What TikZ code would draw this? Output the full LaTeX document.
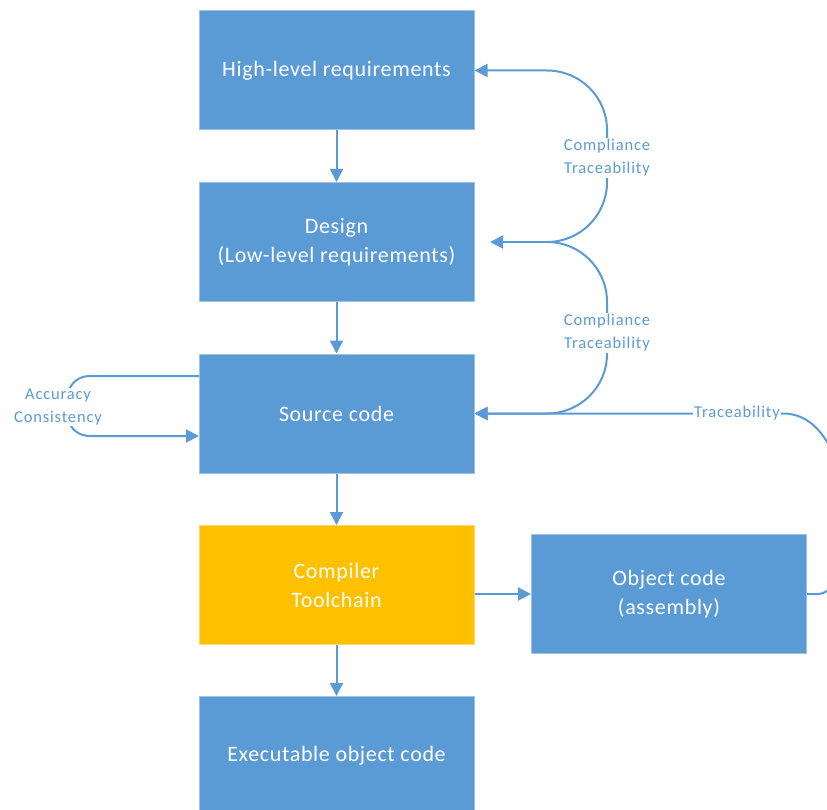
\documentclass[tikz,border=0pt]{standalone}
\usepackage{fontspec}
\setmainfont{Carlito}
\usetikzlibrary{arrows.meta,calc}
\definecolor{boxblue}{HTML}{5B9BD5}
\definecolor{boxedge}{HTML}{9CC2E5}
\definecolor{gold}{HTML}{FFC000}
\definecolor{goldedge}{HTML}{FFD966}
\definecolor{lbl}{HTML}{5B9BD5}
\tikzset{
  box/.style={draw=boxedge, line width=1pt, fill=boxblue, text=white, minimum width=275pt, minimum height=119pt, inner sep=0pt, align=center, font=\fontsize{22}{29}\selectfont\addfontfeature{LetterSpace=3}},
  goldbox/.style={box, fill=gold, draw=goldedge},
  conn/.style={draw=boxblue, line width=2pt},
  arr/.style={conn, -{Triangle[length=13pt,width=13pt]}},
  lab/.style={fill=white, text=lbl, align=center, inner sep=1pt, font=\fontsize{16.5}{23}\selectfont\addfontfeature{LetterSpace=5}},
}
\begin{document}
\begin{tikzpicture}[x=1pt,y=-1pt]
\useasboundingbox (0,0) rectangle (827,810);
\node[box] (hlr) at (336.5,70.5) {High-level requirements};
\node[box] (dsn) at (336.5,242) {Design\\(Low-level requirements)};
\node[box] (src) at (336.5,413.5) {Source code};
\node[goldbox] (cmp) at (336.5,585) {Compiler\\Toolchain};
\node[box] (obj) at (669,594) {Object code\\(assembly)};
\node[box] (exe) at (336.5,756) {Executable object code};

% vertical flow
\draw[arr] (hlr) -- (dsn);
\draw[arr] (dsn) -- (src);
\draw[arr] (src) -- (cmp);
\draw[arr] (cmp) -- (exe);
\draw[arr] (cmp.east |- obj.west) -- (obj.west);

% right compliance loops
\coordinate (j1) at (547,242);
\coordinate (dtip) at (490,242);
\coordinate (h1) at (547,70.5);
\coordinate (s1) at (547,413.5);
\draw[arr] (j1) -- (dtip);
\draw[arr] (j1) to[out=0,in=-90] (607,182) -- (607,130) to[out=90,in=0] (h1) -- (hlr.east);
\draw[arr] (j1) to[out=0,in=90] (607,302) -- (607,354) to[out=-90,in=0] (s1) -- (src.east);
\node[lab] (l1) at (607,158) {Compliance\\Traceability};
\node[lab] (l2) at (607,333) {Compliance\\Traceability};

% object code traceability
\coordinate (t1) at (783,413.5);
\draw[arr] (obj.east) -- (818,594) .. controls (860,594) and (860,413.5) .. (t1) -- (src.east);
\node[lab] (l3) at (737,413.5) {Traceability};

% left loop
\coordinate (a1) at (199,376);
\coordinate (a2) at (199,436);
\draw[arr] (a1) -- (90,376) to[out=180,in=70] (68,392) -- (68,420) to[out=-70,in=180] (90,436) -- (a2);
\node[lab] (l4) at (58,407) {Accuracy\\Consistency};
\end{tikzpicture}
\end{document}
